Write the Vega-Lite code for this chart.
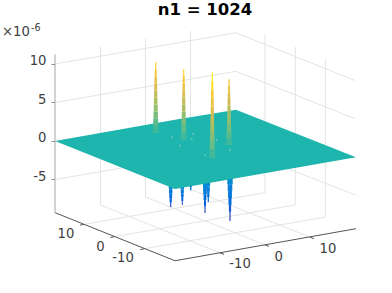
{"$schema":"https://vega.github.io/schema/vega-lite/v6.json","width":392,"height":293,"padding":0,"autosize":{"type":"none"},"background":"white","config":{"view":{"stroke":null}},"title":{"text":"n1 = 1024","font":"DejaVu Sans","fontSize":16.5,"fontWeight":"bold","color":"black","anchor":"middle","frame":"group","dx":9,"offset":-18},"datasets":{"wall":[{"h0":55,"v0":10,"h1":236,"v1":14.05},{"h0":236,"v0":14.05,"h1":355,"v1":7.85},{"h0":55,"v0":5,"h1":236,"v1":9.05},{"h0":236,"v0":9.05,"h1":355,"v1":2.9},{"h0":55,"v0":-5,"h1":236,"v1":-0.95},{"h0":236,"v0":-0.95,"h1":356,"v1":-7.05},{"h0":100.5,"v0":12.27,"h1":100.5,"v1":-8.31},{"h0":145.5,"v0":13.27,"h1":145.5,"v1":-7.27},{"h0":190.5,"v0":14.29,"h1":190.5,"v1":-6.27},{"h0":265,"v0":13.82,"h1":265,"v1":-6.71},{"h0":295.3,"v0":12.21,"h1":295.3,"v1":-8.29},{"h0":325.3,"v0":10.65,"h1":325.3,"v1":-9.87},{"h0":265,"v0":-6.71,"h1":84,"v1":-10.83},{"h0":295.3,"v0":-8.29,"h1":114.3,"v1":-12.43},{"h0":325.3,"v0":-9.87,"h1":144.3,"v1":-14.0},{"h0":100.5,"v0":-8.31,"h1":220,"v1":-14.53},{"h0":145.5,"v0":-7.27,"h1":265,"v1":-13.49},{"h0":190.5,"v0":-6.27,"h1":310,"v1":-12.49}],"floorAxes":[{"h0":55,"v0":-9.31,"h1":175,"v1":-15.55},{"h0":175,"v0":-15.55,"h1":356,"v1":-11.39},{"h0":84,"v0":-10.83,"h1":80,"v1":-10.93},{"h0":114.3,"v0":-12.43,"h1":110.3,"v1":-12.53},{"h0":144.3,"v0":-14.0,"h1":140.3,"v1":-14.1},{"h0":220,"v0":-14.53,"h1":224,"v1":-14.73},{"h0":265,"v0":-13.49,"h1":269,"v1":-13.69},{"h0":310,"v0":-12.49,"h1":314,"v1":-12.69}],"zAxis":[{"h0":55,"v0":11.26,"h1":55,"v1":-9.31}],"plane":[{"h":55,"top":0,"bottom":0},{"h":175,"top":2.75,"bottom":-6.23},{"h":236,"top":4.05,"bottom":-4.83},{"h":356,"top":-2.1,"bottom":-2.1}],"down":[{"h0":168.8,"h1":172.6,"v0":-5.7,"v1":-6.27,"val":-5.4},{"h0":169,"h1":172.4,"v0":-6.27,"v1":-6.85,"val":-6.2},{"h0":169.3,"h1":172.1,"v0":-6.85,"v1":-7.42,"val":-7},{"h0":169.6,"h1":171.8,"v0":-7.42,"v1":-8,"val":-7.9},{"h0":170.1,"h1":171.3,"v0":-8,"v1":-8.57,"val":-8.8},{"h0":180.6,"h1":184,"v0":-5.8,"v1":-6.3,"val":-5.3},{"h0":180.8,"h1":183.8,"v0":-6.3,"v1":-6.8,"val":-6.1},{"h0":181,"h1":183.6,"v0":-6.8,"v1":-7.3,"val":-6.9},{"h0":181.3,"h1":183.3,"v0":-7.3,"v1":-7.8,"val":-7.8},{"h0":181.8,"h1":182.8,"v0":-7.8,"v1":-8.31,"val":-8.7},{"h0":189.5,"h1":191.9,"v0":-5.6,"v1":-6,"val":-5.4},{"h0":190,"h1":191.4,"v0":-6,"v1":-6.4,"val":-6.2},{"h0":206.5,"h1":210.1,"v0":-5.2,"v1":-5.9,"val":-5},{"h0":206.8,"h1":209.8,"v0":-5.9,"v1":-6.6,"val":-5.8},{"h0":207.2,"h1":209.4,"v0":-6.6,"v1":-7.3,"val":-6.6},{"h0":207.7,"h1":208.9,"v0":-7.3,"v1":-7.92,"val":-7.6},{"h0":203,"h1":207,"v0":-5.3,"v1":-6.1,"val":-5},{"h0":203.2,"h1":206.8,"v0":-6.1,"v1":-6.9,"val":-5.9},{"h0":203.6,"h1":206.4,"v0":-6.9,"v1":-7.7,"val":-6.9},{"h0":204,"h1":206,"v0":-7.7,"v1":-8.5,"val":-8},{"h0":204.4,"h1":205.6,"v0":-8.5,"v1":-9.35,"val":-9.1},{"h0":227.3,"h1":232.7,"v0":-4.7,"v1":-5.6,"val":-4.8},{"h0":227.7,"h1":232.3,"v0":-5.6,"v1":-6.5,"val":-5.6},{"h0":228.1,"h1":231.9,"v0":-6.5,"v1":-7.4,"val":-6.4},{"h0":228.5,"h1":231.5,"v0":-7.4,"v1":-8.3,"val":-7.3},{"h0":228.9,"h1":231.1,"v0":-8.3,"v1":-9.2,"val":-8.4},{"h0":229.4,"h1":230.6,"v0":-9.2,"v1":-10.39,"val":-9.8}],"up":[{"h0":152.7,"h1":158.7,"v0":1.04,"v1":1.96,"val":0.46},{"h0":153.2,"h1":158.2,"v0":1.96,"v1":2.88,"val":1.38},{"h0":153.5,"h1":157.9,"v0":2.88,"v1":3.8,"val":2.3},{"h0":153.75,"h1":157.65,"v0":3.8,"v1":4.72,"val":3.22},{"h0":153.95,"h1":157.45,"v0":4.72,"v1":5.64,"val":4.14},{"h0":154.1,"h1":157.3,"v0":5.64,"v1":6.56,"val":5.06},{"h0":154.25,"h1":157.15,"v0":6.56,"v1":7.48,"val":5.98},{"h0":154.45,"h1":156.95,"v0":7.48,"v1":8.4,"val":6.9},{"h0":154.7,"h1":156.7,"v0":8.4,"v1":9.32,"val":7.82},{"h0":155.1,"h1":156.3,"v0":9.32,"v1":10.24,"val":8.74},{"h0":180.7,"h1":186.7,"v0":0.13,"v1":1.05,"val":0.46},{"h0":181.2,"h1":186.2,"v0":1.05,"v1":1.97,"val":1.38},{"h0":181.5,"h1":185.9,"v0":1.97,"v1":2.89,"val":2.3},{"h0":181.75,"h1":185.65,"v0":2.89,"v1":3.81,"val":3.22},{"h0":181.95,"h1":185.45,"v0":3.81,"v1":4.73,"val":4.14},{"h0":182.1,"h1":185.3,"v0":4.73,"v1":5.65,"val":5.06},{"h0":182.25,"h1":185.15,"v0":5.65,"v1":6.57,"val":5.98},{"h0":182.45,"h1":184.95,"v0":6.57,"v1":7.49,"val":6.9},{"h0":182.7,"h1":184.7,"v0":7.49,"v1":8.41,"val":7.82},{"h0":183.1,"h1":184.3,"v0":8.41,"v1":9.33,"val":8.74},{"h0":209.3,"h1":215.3,"v0":-2.21,"v1":-1.1,"val":0.55},{"h0":209.8,"h1":214.8,"v0":-1.1,"v1":0.01,"val":1.66},{"h0":210.1,"h1":214.5,"v0":0.01,"v1":1.11,"val":2.77},{"h0":210.35,"h1":214.25,"v0":1.11,"v1":2.22,"val":3.88},{"h0":210.55,"h1":214.05,"v0":2.22,"v1":3.33,"val":4.99},{"h0":210.7,"h1":213.9,"v0":3.33,"v1":4.44,"val":6.09},{"h0":210.85,"h1":213.75,"v0":4.44,"v1":5.55,"val":7.2},{"h0":211.05,"h1":213.55,"v0":5.55,"v1":6.65,"val":8.31},{"h0":211.3,"h1":213.3,"v0":6.65,"v1":7.76,"val":9.42},{"h0":211.7,"h1":212.9,"v0":7.76,"v1":8.87,"val":10.5},{"h0":226,"h1":232,"v0":-0.52,"v1":0.33,"val":0.43},{"h0":226.5,"h1":231.5,"v0":0.33,"v1":1.19,"val":1.28},{"h0":226.8,"h1":231.2,"v0":1.19,"v1":2.04,"val":2.13},{"h0":227.05,"h1":230.95,"v0":2.04,"v1":2.89,"val":2.99},{"h0":227.25,"h1":230.75,"v0":2.89,"v1":3.75,"val":3.84},{"h0":227.4,"h1":230.6,"v0":3.75,"v1":4.6,"val":4.69},{"h0":227.55,"h1":230.45,"v0":4.6,"v1":5.45,"val":5.54},{"h0":227.75,"h1":230.25,"v0":5.45,"v1":6.3,"val":6.4},{"h0":228,"h1":230,"v0":6.3,"v1":7.16,"val":7.25},{"h0":228.4,"h1":229.6,"v0":7.16,"v1":8.01,"val":8.1}],"specks":[{"h":171.7,"v":0.48},{"h":180,"v":-0.61},{"h":191.7,"v":0.26},{"h":193,"v":0.91},{"h":205,"v":-1.82},{"h":216.7,"v":0.13},{"h":230,"v":-1.17},{"h":156,"v":1.21}],"floorLabels":[{"label":"10","h":66,"v":-12.08},{"label":"0","h":100.5,"v":-13.73},{"label":"-10","h":123,"v":-15.19},{"label":"-10","h":240,"v":-15.97},{"label":"0","h":278.7,"v":-15.03},{"label":"10","h":328,"v":-13.99}],"exp10":[{"label":"×10","h":2,"v":13.64}],"exp6":[{"label":"-6","h":31,"v":14.29}]},"resolve":{"scale":{"color":"independent"}},"layer":[{"data":{"name":"wall"},"mark":{"type":"rule","color":"#e4e4e4","strokeWidth":1},"encoding":{"x":{"field":"h0","type":"quantitative","scale":{"domain":[0,392],"nice":false,"zero":false},"axis":null},"x2":{"field":"h1"},"y":{"field":"v0","type":"quantitative","title":null,"scale":{"domain":[-19.74,18.31],"nice":false,"zero":false},"axis":{"title":null,"values":[-5,0,5,10],"offset":-55,"domain":false,"grid":false,"tickColor":"#8c8c8c","tickSize":4,"labelColor":"#404040","labelFont":"DejaVu Sans","labelFontSize":13.2,"labelPadding":5,"labelOffset":-3,"labelFlush":false,"labelExpr":"replace(datum.label,'−','-')"}},"y2":{"field":"v1"}}},{"data":{"name":"floorAxes"},"mark":{"type":"rule","color":"#555555","strokeWidth":1},"encoding":{"x":{"field":"h0","type":"quantitative","axis":null},"x2":{"field":"h1"},"y":{"field":"v0","type":"quantitative","title":null},"y2":{"field":"v1"}}},{"data":{"name":"zAxis"},"mark":{"type":"rule","color":"#a6a6a6","strokeWidth":1},"encoding":{"x":{"field":"h0","type":"quantitative","axis":null},"y":{"field":"v0","type":"quantitative","title":null},"y2":{"field":"v1"}}},{"data":{"name":"down"},"mark":{"type":"rect"},"encoding":{"x":{"field":"h0","type":"quantitative","axis":null},"x2":{"field":"h1"},"y":{"field":"v0","type":"quantitative","title":null},"y2":{"field":"v1"},"color":{"field":"val","type":"quantitative","legend":null,"scale":{"domain":[-11,-8.25,-5.5,-2.75,0,2.75,5.5,8.25,11],"range":["#352A87","#0F5CDD","#1481D6","#06A4CA","#2EB7A4","#87BF77","#D1BB59","#FEC832","#F9FB0E"]}}}},{"data":{"name":"plane"},"mark":{"type":"area","color":"#1DB5AD","opacity":1},"encoding":{"x":{"field":"h","type":"quantitative","axis":null},"y":{"field":"top","type":"quantitative","title":null},"y2":{"field":"bottom"}}},{"data":{"name":"specks"},"mark":{"type":"point","filled":true,"shape":"square","color":"#7fcabb","size":3,"opacity":0.8},"encoding":{"x":{"field":"h","type":"quantitative","axis":null},"y":{"field":"v","type":"quantitative","title":null}}},{"data":{"name":"up"},"mark":{"type":"rect"},"encoding":{"x":{"field":"h0","type":"quantitative","axis":null},"x2":{"field":"h1"},"y":{"field":"v0","type":"quantitative","title":null},"y2":{"field":"v1"},"color":{"field":"val","type":"quantitative","legend":null,"scale":{"domain":[-11,-8.25,-5.5,-2.75,0,2.75,5.5,8.25,11],"range":["#352A87","#0F5CDD","#1481D6","#06A4CA","#2EB7A4","#87BF77","#D1BB59","#FEC832","#F9FB0E"]}}}},{"data":{"name":"floorLabels"},"mark":{"type":"text","font":"DejaVu Sans","fontSize":13.2,"color":"#404040","align":"center","baseline":"middle"},"encoding":{"text":{"field":"label"},"x":{"field":"h","type":"quantitative","axis":null},"y":{"field":"v","type":"quantitative","title":null}}},{"data":{"name":"exp10"},"mark":{"type":"text","font":"DejaVu Sans","fontSize":13.2,"color":"#404040","align":"left","baseline":"alphabetic"},"encoding":{"text":{"field":"label"},"x":{"field":"h","type":"quantitative","axis":null},"y":{"field":"v","type":"quantitative","title":null}}},{"data":{"name":"exp6"},"mark":{"type":"text","font":"DejaVu Sans","fontSize":9.6,"color":"#404040","align":"left","baseline":"alphabetic"},"encoding":{"text":{"field":"label"},"x":{"field":"h","type":"quantitative","axis":null},"y":{"field":"v","type":"quantitative","title":null}}}]}
